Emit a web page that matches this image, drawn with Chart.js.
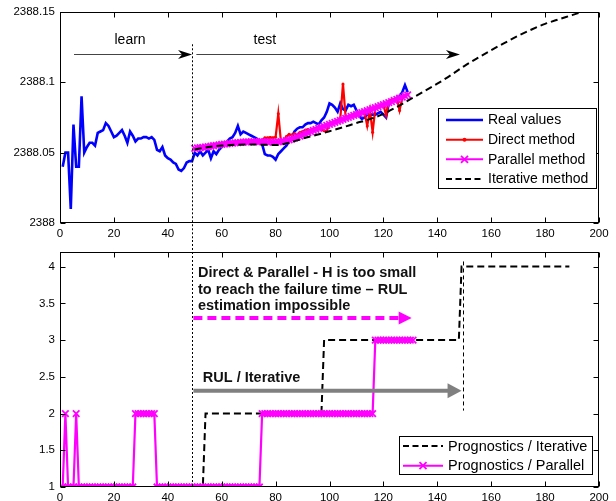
<!DOCTYPE html>
<html><head><meta charset="utf-8">
<script src="https://cdn.jsdelivr.net/npm/chart.js@4.4.0/dist/chart.umd.min.js"></script>
<style>
html,body{margin:0;padding:0;background:#fff;overflow:hidden;width:616px;height:501px;position:relative;}
canvas{display:block;position:absolute;left:0;}
#topChart{top:0;}
#botChart{top:240px;}
</style></head><body>
<canvas id="topChart" width="616" height="240"></canvas>
<canvas id="botChart" width="616" height="270"></canvas>
<script>
// ---------- DATA ----------
const xTicks = [0, 20, 40, 60, 80, 100, 120, 140, 160, 180, 200];
const topYTicks = [2388, 2388.05, 2388.1, 2388.15];
const botYTicks = [1, 1.5, 2, 2.5, 3, 3.5, 4];

const realStart = 1;
const realValues = [
 2388.040, 2388.050, 2388.050, 2388.010, 2388.070, 2388.040, 2388.040, 2388.090, 2388.050, 2388.054,
 2388.057, 2388.057, 2388.055, 2388.064, 2388.065, 2388.066, 2388.071, 2388.069, 2388.065, 2388.061,
 2388.062, 2388.064, 2388.066, 2388.062, 2388.057, 2388.065, 2388.062, 2388.058, 2388.060, 2388.060,
 2388.061, 2388.061, 2388.060, 2388.061, 2388.059, 2388.052, 2388.051, 2388.054, 2388.048, 2388.046,
 2388.045, 2388.043, 2388.042, 2388.038, 2388.037, 2388.039, 2388.043, 2388.044, 2388.044, 2388.050,
 2388.048, 2388.051, 2388.048, 2388.050, 2388.052, 2388.046, 2388.051, 2388.049, 2388.052, 2388.054,
 2388.056, 2388.058, 2388.060, 2388.061, 2388.064, 2388.069, 2388.063, 2388.065, 2388.064, 2388.063,
 2388.062, 2388.061, 2388.060, 2388.058, 2388.056, 2388.049, 2388.048, 2388.048, 2388.047, 2388.045,
 2388.049, 2388.051, 2388.053, 2388.055, 2388.058, 2388.061, 2388.065, 2388.067, 2388.068, 2388.068,
 2388.070, 2388.071, 2388.071, 2388.072, 2388.071, 2388.070, 2388.073, 2388.075, 2388.079, 2388.085,
 2388.084, 2388.082, 2388.079, 2388.085, 2388.081, 2388.080, 2388.084, 2388.083, 2388.084, 2388.080,
 2388.076, 2388.074, 2388.075, 2388.077, 2388.077, 2388.077, 2388.077, 2388.078, 2388.079, 2388.077,
 2388.075, 2388.085, 2388.087, 2388.088, 2388.089, 2388.090, 2388.093, 2388.098, 2388.093
];

const predStart = 50;
const directValues = [
 2388.0530, 2388.0535, 2388.0533, 2388.0542, 2388.0540, 2388.0545, 2388.0544, 2388.0551, 2388.0550, 2388.0557,
 2388.0558, 2388.0562, 2388.0561, 2388.0567, 2388.0566, 2388.0571, 2388.0572, 2388.0573, 2388.0576, 2388.0575,
 2388.0578, 2388.0579, 2388.0577, 2388.0581, 2388.0579, 2388.0582,
 2388.0605, 2388.0605, 2388.0608, 2388.0605, 2388.0610, 2388.0777,
 2388.0575, 2388.0585, 2388.0615, 2388.0630, 2388.0625, 2388.0635, 2388.0620, 2388.0645, 2388.0650,
 2388.0660, 2388.0665, 2388.0660, 2388.0670, 2388.0675, 2388.0680, 2388.0665, 2388.0655, 2388.0655,
 2388.0705, 2388.0710, 2388.0720, 2388.0730, 2388.0740,
 2388.0988,
 2388.0750, 2388.0755, 2388.0760, 2388.0770, 2388.0775, 2388.0780, 2388.0785, 2388.0785,
 2388.0690, 2388.0800, 2388.0645, 2388.0815, 2388.0825, 2388.0835, 2388.0840, 2388.0765, 2388.0865, 2388.0875,
 2388.0880, 2388.0885, 2388.0800, 2388.0890, 2388.0905, 2388.0915
];
const parallelValues = [
 2388.0530, 2388.0533, 2388.0535, 2388.0538, 2388.0540, 2388.0543, 2388.0546, 2388.0549, 2388.0552, 2388.0555,
 2388.0558, 2388.0560, 2388.0563, 2388.0565, 2388.0567, 2388.0569, 2388.0571, 2388.0573, 2388.0574, 2388.0576,
 2388.0577, 2388.0578, 2388.0578, 2388.0579, 2388.0579, 2388.0579, 2388.0578, 2388.0577, 2388.0576, 2388.0575,
 2388.0575, 2388.0576, 2388.0578, 2388.0581, 2388.0585, 2388.0590, 2388.0596, 2388.0603, 2388.0610, 2388.0618,
 2388.0626, 2388.0634, 2388.0642, 2388.0650, 2388.0658, 2388.0666, 2388.0673, 2388.0680, 2388.0687, 2388.0694,
 2388.0701, 2388.0708, 2388.0715, 2388.0722, 2388.0729, 2388.0736, 2388.0743, 2388.0750, 2388.0757, 2388.0764,
 2388.0771, 2388.0778, 2388.0785, 2388.0792, 2388.0799, 2388.0806, 2388.0813, 2388.0820, 2388.0827, 2388.0834,
 2388.0841, 2388.0848, 2388.0855, 2388.0863, 2388.0871, 2388.0879, 2388.0887, 2388.0895, 2388.0903, 2388.0911
];
const iterativeX = [50, 55, 60, 65, 70, 75, 80, 85, 90, 95, 100, 105, 110, 115, 120, 125, 130, 135, 140, 145,
                    150, 155, 160, 165, 170, 175, 180, 185, 190, 195, 200];
const iterativeValues = [
 2388.0523, 2388.0540, 2388.0550, 2388.0556, 2388.0558, 2388.0556, 2388.0554, 2388.0570, 2388.0600, 2388.0625,
 2388.0652, 2388.0680, 2388.0710, 2388.0738, 2388.0775, 2388.0825, 2388.0880, 2388.0935, 2388.0990, 2388.1050,
 2388.1115, 2388.1173, 2388.1228, 2388.1280, 2388.1330, 2388.1375, 2388.1415, 2388.1447, 2388.1477, 2388.1508,
 2388.1535
];

// bottom panel
const progParallelStart = 1;
const progParallel = [
 1,2,1,1,1,2,1,1,1,1,
 1,1,1,1,1,1,1,1,1,1,
 1,1,1,1,1,1,1,2,2,2,
 2,2,2,2,2,1,1,1,1,1,
 1,1,1,1,1,1,1,1,1,1,
 1,1,1,1,1,1,1,1,1,1,
 1,1,1,1,1,1,1,1,1,1,
 1,1,1,1,2,2,2,2,2,2,
 2,2,2,2,2,2,2,2,2,2,
 2,2,2,2,2,2,2,2,2,2,
 2,2,2,2,2,2,2,2,2,2,
 2,2,2,2,2,2,3,3,3,3,
 3,3,3,3,3,3,3,3,3,3,3
];
const progIterativeX = [50, 53, 54, 97, 98, 148, 149, 189];
const progIterative  = [1, 1, 2, 2, 3, 3, 4, 4];

// ---------- HELPERS ----------
const FONT = "'Liberation Sans', Arial, Helvetica, sans-serif";
Chart.defaults.font.family = FONT;
Chart.defaults.color = '#000';
const pts = (xs, ys) => ys.map((y, i) => ({x: xs[i], y}));
const idx = (start, n) => Array.from({length: n}, (_, i) => start + i);

const DIVIDE_X = 49;

function arrowHead(ctx, tipX, y, len, half, notch, color) {
  ctx.fillStyle = color;
  ctx.beginPath();
  ctx.moveTo(tipX, y);
  ctx.lineTo(tipX - len, y - half);
  ctx.lineTo(tipX - len + notch, y);
  ctx.lineTo(tipX - len, y + half);
  ctx.closePath();
  ctx.fill();
}

const axesBox = {
  id: 'axesBox',
  afterDraw(chart) {
    const {ctx, chartArea: a, scales: {x, y}} = chart;
    ctx.save();
    ctx.strokeStyle = '#000'; ctx.lineWidth = 1; ctx.setLineDash([]);
    const L = Math.round(a.left) + 0.5, R = Math.round(a.right) - 0.5;
    const T = Math.round(a.top) + 0.5, B = Math.round(a.bottom) - 0.5;
    ctx.strokeRect(L, T, R - L, B - T);
    ctx.beginPath();
    x.ticks.forEach(t => {
      const p = Math.round(x.getPixelForValue(t.value)) + 0.5;
      ctx.moveTo(p, B); ctx.lineTo(p, B - 5);
      ctx.moveTo(p, T); ctx.lineTo(p, T + 5);
    });
    y.ticks.forEach(t => {
      const p = Math.round(y.getPixelForValue(t.value)) + 0.5;
      ctx.moveTo(L, p); ctx.lineTo(L + 5, p);
      ctx.moveTo(R, p); ctx.lineTo(R - 5, p);
    });
    ctx.stroke();
    ctx.restore();
  }
};

function drawLegend(ctx, box, rows, font) {
  ctx.save();
  ctx.fillStyle = '#fff';
  ctx.fillRect(box.x, box.y, box.w, box.h);
  ctx.strokeStyle = '#000'; ctx.lineWidth = 1; ctx.setLineDash([]);
  ctx.strokeRect(box.x + 0.5, box.y + 0.5, box.w, box.h);
  ctx.font = font;
  ctx.textBaseline = 'middle';
  rows.forEach(r => {
    ctx.save();
    ctx.strokeStyle = r.color; ctx.lineWidth = r.width;
    ctx.setLineDash(r.dash || []);
    ctx.beginPath(); ctx.moveTo(box.sx0, r.y); ctx.lineTo(box.sx1, r.y); ctx.stroke();
    ctx.setLineDash([]);
    const mx = (box.sx0 + box.sx1) / 2;
    if (r.marker === 'dot') {
      ctx.fillStyle = r.color; ctx.beginPath(); ctx.arc(mx, r.y, 2, 0, Math.PI * 2); ctx.fill();
    } else if (r.marker === 'x') {
      ctx.lineWidth = 1.8; ctx.beginPath();
      ctx.moveTo(mx - 3.5, r.y - 3.5); ctx.lineTo(mx + 3.5, r.y + 3.5);
      ctx.moveTo(mx - 3.5, r.y + 3.5); ctx.lineTo(mx + 3.5, r.y - 3.5); ctx.stroke();
    }
    ctx.restore();
    ctx.fillStyle = '#000';
    ctx.fillText(r.label, box.tx, r.y + 0.5);
  });
  ctx.restore();
}

const topAnno = {
  id: 'topAnno',
  afterDraw(chart) {
    const {ctx, chartArea: a, scales: {x, y}} = chart;
    ctx.save();
    const dx = Math.round(x.getPixelForValue(DIVIDE_X)) + 0.5;
    ctx.strokeStyle = '#000'; ctx.lineWidth = 1; ctx.setLineDash([2, 2]);
    ctx.beginPath(); ctx.moveTo(dx, y.getPixelForValue(2388.127)); ctx.lineTo(dx, chart.height); ctx.stroke();
    ctx.setLineDash([]);
    const ay = Math.round(y.getPixelForValue(2388.1204)) + 0.5;
    const arrows = [[5.2, 49], [50.6, 148.4]];
    arrows.forEach(([s, e]) => {
      const xs = x.getPixelForValue(s), xe = x.getPixelForValue(e);
      ctx.strokeStyle = '#444'; ctx.lineWidth = 1;
      ctx.beginPath(); ctx.moveTo(xs, ay); ctx.lineTo(xe - 8, ay); ctx.stroke();
      arrowHead(ctx, xe, ay, 14, 4.5, 4, '#000');
    });
    ctx.fillStyle = '#000';
    ctx.font = '14px ' + FONT;
    ctx.textAlign = 'center'; ctx.textBaseline = 'middle';
    const ly = y.getPixelForValue(2388.1296);
    ctx.fillText('learn', x.getPixelForValue(26), ly);
    ctx.fillText('test', x.getPixelForValue(76), ly);
    ctx.restore();
    drawLegend(ctx, {x: 438, y: 108, w: 158, h: 80, sx0: 446, sx1: 483, tx: 488}, [
      {label: 'Real values', color: '#0000ff', width: 2.5, y: 120},
      {label: 'Direct method', color: '#ff0000', width: 2, y: 139.7, marker: 'dot'},
      {label: 'Parallel method', color: '#ff00ff', width: 2, y: 159.3, marker: 'x'},
      {label: 'Iterative method', color: '#000', width: 2, y: 179, dash: [6, 3.5]}
    ], '14px ' + FONT);
  }
};

const botAnno = {
  id: 'botAnno',
  afterDraw(chart) {
    const {ctx, chartArea: a, scales: {x, y}} = chart;
    ctx.save();
    const dx = Math.round(x.getPixelForValue(DIVIDE_X)) + 0.5;
    ctx.strokeStyle = '#000'; ctx.lineWidth = 1; ctx.setLineDash([2, 2]);
    ctx.beginPath(); ctx.moveTo(dx, 0); ctx.lineTo(dx, a.bottom); ctx.stroke();
    const rx = Math.round(x.getPixelForValue(149.5)) + 0.5;
    ctx.setLineDash([4, 3]);
    ctx.beginPath(); ctx.moveTo(rx, y.getPixelForValue(4.07)); ctx.lineTo(rx, y.getPixelForValue(2.04)); ctx.stroke();
    const my = y.getPixelForValue(3.30);
    const mTip = x.getPixelForValue(130.5);
    ctx.strokeStyle = '#ff00ff'; ctx.lineWidth = 4; ctx.setLineDash([9, 5]);
    ctx.beginPath(); ctx.moveTo(x.getPixelForValue(49.5), my); ctx.lineTo(mTip - 12, my); ctx.stroke();
    ctx.setLineDash([]);
    arrowHead(ctx, mTip, my, 13, 6.5, 0, '#ff00ff');
    const gy = y.getPixelForValue(2.31);
    const gTip = x.getPixelForValue(149);
    ctx.strokeStyle = '#808080'; ctx.lineWidth = 4;
    ctx.beginPath(); ctx.moveTo(x.getPixelForValue(49.5), gy); ctx.lineTo(gTip - 12, gy); ctx.stroke();
    arrowHead(ctx, gTip, gy, 14, 7.5, 0, '#808080');
    ctx.fillStyle = '#111';
    ctx.font = 'bold 14.5px ' + FONT;
    ctx.textAlign = 'left'; ctx.textBaseline = 'middle';
    const tx = x.getPixelForValue(51.2);
    ctx.fillText('Direct & Parallel - H is too small', tx, y.getPixelForValue(3.91));
    ctx.fillText('to reach the failure time \u2013 RUL', tx, y.getPixelForValue(3.685));
    ctx.fillText('estimation impossible', tx, y.getPixelForValue(3.465));
    ctx.fillText('RUL / Iterative', x.getPixelForValue(53), y.getPixelForValue(2.49));
    ctx.restore();
    drawLegend(ctx, {x: 399, y: 196, w: 193, h: 38, sx0: 403, sx1: 443, tx: 448}, [
      {label: 'Prognostics / Iterative', color: '#000', width: 2, y: 206, dash: [6, 3.5]},
      {label: 'Prognostics / Parallel', color: '#ff00ff', width: 2, y: 225.7, marker: 'x'}
    ], '14.5px ' + FONT);
  }
};

const tickFont = {size: 11.5, family: FONT};
function xScale(h) {
  return {
    type: 'linear', min: 0, max: 200,
    afterBuildTicks: s => { s.ticks = xTicks.map(v => ({value: v})); },
    ticks: {padding: 4, font: tickFont, maxRotation: 0, autoSkip: false, color: '#000'},
    grid: {display: false, drawTicks: false}, border: {display: false},
    afterFit: s => { s.height = h; }
  };
}

new Chart(document.getElementById('topChart'), {
  type: 'line',
  data: {
    datasets: [
      {label: 'Real values', data: pts(idx(realStart, realValues.length), realValues),
       borderColor: '#0000ff', borderWidth: 2.6, pointRadius: 0, order: 4},
      {label: 'Direct method', data: pts(idx(predStart, directValues.length), directValues),
       borderColor: '#ff0000', backgroundColor: '#ff0000', borderWidth: 2.2, pointRadius: 1.5,
       pointBorderWidth: 0, pointBackgroundColor: '#ff0000', order: 3},
      {label: 'Parallel method', data: pts(idx(predStart, parallelValues.length), parallelValues),
       borderColor: '#ff00ff', borderWidth: 2.2, pointStyle: 'crossRot', pointRadius: 4.6,
       pointBorderWidth: 1.8, pointBorderColor: '#ff00ff', order: 2},
      {label: 'Iterative method', data: pts(iterativeX, iterativeValues),
       borderColor: '#000', borderWidth: 2, borderDash: [7, 4], pointRadius: 0,
       cubicInterpolationMode: 'monotone', order: 1}
    ]
  },
  options: {
    responsive: false, animation: false, devicePixelRatio: 1, events: [],
    layout: {padding: {left: 0, right: 17, top: 10, bottom: 0}},
    plugins: {legend: {display: false}, tooltip: {enabled: false}},
    scales: {
      x: xScale(17),
      y: {
        type: 'linear', min: 2388, max: 2388.15,
        afterBuildTicks: s => { s.ticks = topYTicks.map(v => ({value: v})); },
        ticks: {padding: 5, font: tickFont, color: '#000', callback: v => String(+(+v).toFixed(2))},
        grid: {display: false, drawTicks: false}, border: {display: false},
        afterFit: s => { s.width = 60; }
      }
    }
  },
  plugins: [axesBox, topAnno]
});

new Chart(document.getElementById('botChart'), {
  type: 'line',
  data: {
    datasets: [
      {label: 'Prognostics / Iterative', data: pts(progIterativeX, progIterative),
       borderColor: '#000', borderWidth: 2, borderDash: [7, 4], pointRadius: 0, order: 2},
      {label: 'Prognostics / Parallel', data: pts(idx(progParallelStart, progParallel.length), progParallel),
       borderColor: '#ff00ff', borderWidth: 2.2, pointStyle: 'crossRot', pointRadius: 4.6,
       pointBorderWidth: 1.8, pointBorderColor: '#ff00ff', order: 1}
    ]
  },
  options: {
    responsive: false, animation: false, devicePixelRatio: 1, events: [],
    layout: {padding: {left: 0, right: 17, top: 10, bottom: 0}},
    plugins: {legend: {display: false}, tooltip: {enabled: false}},
    scales: {
      x: xScale(23),
      y: {
        type: 'linear', min: 1, max: 4.2,
        afterBuildTicks: s => { s.ticks = botYTicks.map(v => ({value: v})); },
        ticks: {padding: 5, font: tickFont, color: '#000', callback: v => String(v)},
        grid: {display: false, drawTicks: false}, border: {display: false},
        afterFit: s => { s.width = 60; }
      }
    }
  },
  plugins: [axesBox, botAnno]
});
</script></body></html>
